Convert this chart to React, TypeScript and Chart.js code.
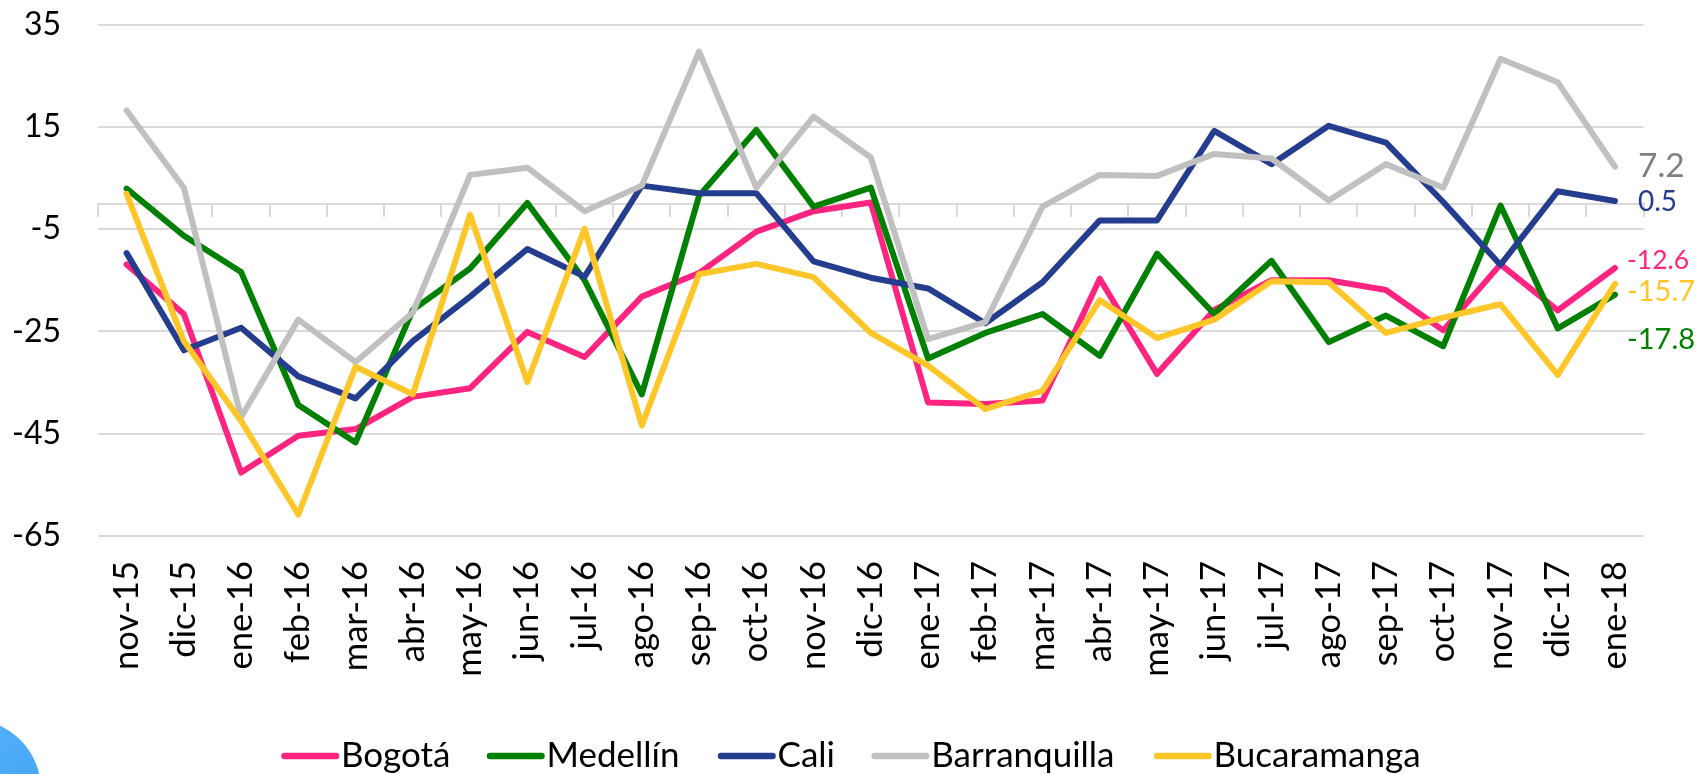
import React, { useEffect, useRef } from "react";
import { Chart, registerables } from "chart.js";

Chart.register(...registerables);

const categories = ["nov-15","dic-15","ene-16","feb-16","mar-16","abr-16","may-16","jun-16","jul-16","ago-16","sep-16","oct-16","nov-16","dic-16","ene-17","feb-17","mar-17","abr-17","may-17","jun-17","jul-17","ago-17","sep-17","oct-17","nov-17","dic-17","ene-18"];

const bogota = [-11.9,-21.6,-52.6,-45.4,-44.1,-37.8,-36.1,-25.1,-30,-18.2,-13.6,-5.5,-1.5,0.2,-38.9,-39.2,-38.5,-14.7,-33.3,-20.8,-15,-15,-16.9,-24.8,-11.9,-20.9,-12.6];
const medellin = [2.9,-6.3,-13.4,-39.4,-46.7,-20.8,-12.7,0.1,-15,-37.3,1.5,14.4,-0.6,3.1,-30.3,-25.3,-21.6,-29.8,-9.8,-21.6,-11.2,-27.1,-21.9,-27.9,-0.4,-24.4,-17.8];
const cali = [-9.7,-28.7,-24.3,-33.8,-38.1,-26.9,-18.2,-8.9,-14.3,3.5,2,2,-11.3,-14.5,-16.6,-23.4,-15.4,-3.3,-3.3,14.2,7.7,15.2,11.9,0.3,-12,2.4,0.5];
const barranquilla = [18.2,3.1,-41.8,-22.7,-31,-21.3,5.6,7,-1.5,3.5,29.7,3.1,17,9,-26.5,-23.2,-0.6,5.6,5.4,9.7,8.8,0.6,7.7,3.1,28.3,23.7,7.2];
const bucaramanga = [1.9,-26.9,-42.5,-60.8,-31.9,-37.3,-2.2,-34.9,-4.9,-43.4,-13.8,-11.8,-14.4,-25.3,-31.7,-40.2,-36.6,-18.9,-26.3,-22.7,-15.2,-15.4,-25.3,-22.3,-19.7,-33.5,-15.7];

const FONT = "Lato";

const seriesList = [
  { label: "Bogotá", data: bogota, color: "#FF2480", labelColor: "#FF2480", size: 26.5, dy: -8, dx: 12, legendX: 281.5 },
  { label: "Medellín", data: medellin, color: "#008000", labelColor: "#008000", size: 29, dy: 45, dx: 12, legendX: 487 },
  { label: "Cali", data: cali, color: "#253D8F", labelColor: "#253D8F", size: 28, dy: 1, dx: 23, legendX: 718 },
  { label: "Barranquilla", data: barranquilla, color: "#C0C0C0", labelColor: "#7F7F7F", size: 33.5, dy: 0, dx: 23, legendX: 871.7 },
  { label: "Bucaramanga", data: bucaramanga, color: "#FFC629", labelColor: "#FFC629", size: 29, dy: 8, dx: 12, legendX: 1154 },
];

const overlayPlugin = {
  id: "overlay",
  afterDatasetsDraw(chart: any) {
    const { ctx, scales } = chart;
    ctx.save();
    ctx.textBaseline = "middle";
    ctx.textAlign = "left";
    seriesList.forEach((s) => {
      const n = s.data.length - 1;
      const v = s.data[n];
      const px = scales.x.getPixelForValue(n);
      const py = scales.y.getPixelForValue(v);
      ctx.font = `${s.size}px ${FONT}`;
      ctx.fillStyle = s.labelColor;
      ctx.fillText(v.toFixed(1), px + s.dx, py + s.dy);

      // legend
      const ly = 756;
      ctx.strokeStyle = s.color;
      ctx.lineWidth = 6.5;
      ctx.lineCap = "round";
      ctx.beginPath();
      ctx.moveTo(s.legendX + 3, ly);
      ctx.lineTo(s.legendX + 54.5, ly);
      ctx.stroke();
      ctx.font = `35px ${FONT}`;
      ctx.fillStyle = "#000000";
      ctx.fillText(s.label, s.legendX + 59.5, ly);
    });
    ctx.restore();
  },
};

export default function App() {
  const ref = useRef<HTMLCanvasElement | null>(null);
  useEffect(() => {
    if (!ref.current) return;
    const zeroPadding = (scale: any) => {
      scale.paddingTop = 0;
      scale.paddingBottom = 0;
      scale.paddingLeft = 0;
      scale.paddingRight = 0;
    };
    const chart = new Chart(ref.current, {
      type: "line",
      data: {
        labels: categories,
        datasets: seriesList.map((s, i) => ({
          label: s.label,
          data: s.data,
          borderColor: s.color,
          backgroundColor: s.color,
          borderWidth: 6,
          borderCapStyle: "round",
          borderJoinStyle: "round",
          pointRadius: 0,
          tension: 0,
          order: seriesList.length - i,
          xAxisID: "x",
          yAxisID: "y",
        })),
      },
      options: {
        responsive: false,
        animation: false,
        layout: { padding: { left: 0, right: 60.4, top: 24.5, bottom: 0 } },
        plugins: { legend: { display: false }, title: { display: false }, tooltip: { enabled: false } },
        scales: {
          x: {
            type: "category",
            position: "bottom",
            offset: true,
            grid: { display: false, drawTicks: false },
            border: { display: false },
            ticks: {
              autoSkip: false,
              minRotation: 90,
              maxRotation: 90,
              padding: 25,
              color: "#000000",
              font: { family: FONT, size: 34.5 },
            },
            afterFit(scale: any) {
              scale.height = 238;
              zeroPadding(scale);
            },
          },
          x0: {
            type: "category",
            axis: "x",
            position: { y: 0 },
            offset: true,
            grid: { display: true, drawOnChartArea: false, drawTicks: true, tickLength: 12, color: "#D9D9D9", lineWidth: 2, offset: true },
            border: { display: true, color: "#D9D9D9", width: 2 },
            ticks: { display: false, autoSkip: false },
          },
          y: {
            type: "linear",
            position: "left",
            min: -65,
            max: 35,
            grid: { color: "#D9D9D9", lineWidth: 2, drawTicks: false },
            border: { display: false },
            ticks: {
              stepSize: 20,
              padding: 37,
              color: "#000000",
              font: { family: FONT, size: 32 },
            },
            afterFit(scale: any) {
              scale.width = 98;
              zeroPadding(scale);
            },
          },
        },
      },
      plugins: [overlayPlugin],
    } as any);
    return () => chart.destroy();
  }, []);

  return (
    <div style={{ position: "fixed", left: 0, top: 0, width: 1704, height: 774, overflow: "hidden", background: "#FFFFFF" }}>
      <div
        style={{
          position: "absolute",
          left: -101,
          top: 719,
          width: 142,
          height: 142,
          borderRadius: "50%",
          background: "linear-gradient(135deg, #5CB8FF, #3F9FF0)",
        }}
      />
      <canvas ref={ref} width={1704} height={774} style={{ position: "absolute", left: 0, top: 0, display: "block" }} />
    </div>
  );
}
